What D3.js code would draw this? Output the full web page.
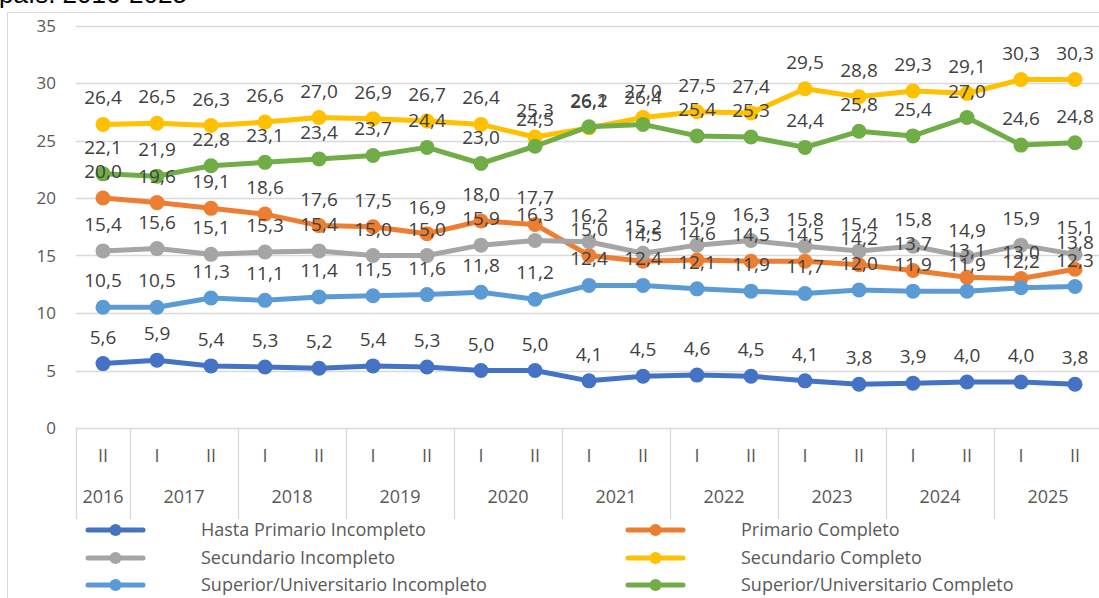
<!DOCTYPE html>
<html>
<head>
<meta charset="utf-8">
<script src="https://cdn.jsdelivr.net/npm/d3@7"></script>
<style>
  body { margin: 0; background: #fff; }
  svg { display: block; font-family: "Open Sans", sans-serif; }
  .tick-label { fill: #595959; font-size: 17px; }
  .cat-label { fill: #595959; font-size: 18px; }
  .data-label { fill: #404040; font-size: 19px; }
  .legend-label { fill: #595959; font-size: 18px; }
</style>
</head>
<body>
<div id="chart"></div>
<script>
// periods (semester + year)
const periodYear = [2016, 2017, 2017, 2018, 2018, 2019, 2019, 2020, 2020, 2021, 2021, 2022, 2022, 2023, 2023, 2024, 2024, 2025, 2025];
const periodHalf = ['II', 'I', 'II', 'I', 'II', 'I', 'II', 'I', 'II', 'I', 'II', 'I', 'II', 'I', 'II', 'I', 'II', 'I', 'II'];
const yTicks = [0, 5, 10, 15, 20, 25, 30, 35];

const hastaPrimarioIncompleto = [5.6, 5.9, 5.4, 5.3, 5.2, 5.4, 5.3, 5.0, 5.0, 4.1, 4.5, 4.6, 4.5, 4.1, 3.8, 3.9, 4.0, 4.0, 3.8];
const primarioCompleto = [20.0, 19.6, 19.1, 18.6, 17.6, 17.5, 16.9, 18.0, 17.7, 15.0, 14.5, 14.6, 14.5, 14.5, 14.2, 13.7, 13.1, 13.0, 13.8];
const secundarioIncompleto = [15.4, 15.6, 15.1, 15.3, 15.4, 15.0, 15.0, 15.9, 16.3, 16.2, 15.2, 15.9, 16.3, 15.8, 15.4, 15.8, 14.9, 15.9, 15.1];
const secundarioCompleto = [26.4, 26.5, 26.3, 26.6, 27.0, 26.9, 26.7, 26.4, 25.3, 26.1, 27.0, 27.5, 27.4, 29.5, 28.8, 29.3, 29.1, 30.3, 30.3];
const superiorIncompleto = [10.5, 10.5, 11.3, 11.1, 11.4, 11.5, 11.6, 11.8, 11.2, 12.4, 12.4, 12.1, 11.9, 11.7, 12.0, 11.9, 11.9, 12.2, 12.3];
const superiorCompleto = [22.1, 21.9, 22.8, 23.1, 23.4, 23.7, 24.4, 23.0, 24.5, 26.2, 26.4, 25.4, 25.3, 24.4, 25.8, 25.4, 27.0, 24.6, 24.8];

const series = [
  { name: 'Hasta Primario Incompleto', values: hastaPrimarioIncompleto, color: '#4472C4', col: 0, row: 0 },
  { name: 'Primario Completo', values: primarioCompleto, color: '#ED7D31', col: 1, row: 0 },
  { name: 'Secundario Incompleto', values: secundarioIncompleto, color: '#A5A5A5', col: 0, row: 1 },
  { name: 'Secundario Completo', values: secundarioCompleto, color: '#FFC000', col: 1, row: 1 },
  { name: 'Superior/Universitario Incompleto', values: superiorIncompleto, color: '#5B9BD5', col: 0, row: 2 },
  { name: 'Superior/Universitario Completo', values: superiorCompleto, color: '#70AD47', col: 1, row: 2 }
];

const width = 1099;
const height = 598;
const plotLeft = 76;
const band = 54;
const plotTop = 25.5;
const plotBottom = 428;
const axisBottom = 519;

let fmt = v => d3.format('.1f')(v).replace('.', ',');

let svg = d3.select('#chart').append('svg')
  .attr('width', width)
  .attr('height', height)

// title (cut off at the top)
svg.append('text')
  .attr('x', -1)
  .attr('y', 3)
  .style('font-family', '"Liberation Sans", Arial, sans-serif')
  .style('font-size', '26px')
  .attr('fill', '#000')
  .text('país. 2016-2025')

// chart frame
svg.append('rect')
  .attr('x', 7.5)
  .attr('y', 12.5)
  .attr('width', width + 10)
  .attr('height', height + 10)
  .attr('fill', 'none')
  .attr('stroke', '#d9d9d9')
  .attr('stroke-width', 1)

let x = d3.scaleBand()
  .domain(d3.range(periodYear.length))
  .range([plotLeft, plotLeft + band * periodYear.length])

let y = d3.scaleLinear()
  .domain([0, 35])
  .range([plotBottom, plotTop])

// gridlines
svg.append('g').selectAll('line')
  .data(yTicks)
  .join('line')
    .attr('x1', plotLeft)
    .attr('x2', width)
    .attr('y1', d => Math.round(y(d)) + 0.5)
    .attr('y2', d => Math.round(y(d)) + 0.5)
    .attr('stroke', '#d9d9d9')
    .attr('stroke-width', 1.3)

svg.append('g').selectAll('text')
  .data(yTicks)
  .join('text')
    .classed('tick-label', true)
    .attr('x', 56)
    .attr('y', d => y(d) + 6)
    .attr('text-anchor', 'end')
    .text(d => d)

// category axis: year separators
let boundaries = [0];
periodYear.forEach((yr, i) => { if (i > 0 && yr !== periodYear[i - 1]) boundaries.push(i); });

svg.append('g').selectAll('line')
  .data(boundaries)
  .join('line')
    .attr('x1', i => Math.round(x(i)) + 0.5)
    .attr('x2', i => Math.round(x(i)) + 0.5)
    .attr('y1', plotBottom)
    .attr('y2', axisBottom)
    .attr('stroke', '#d9d9d9')
    .attr('stroke-width', 1.3)

svg.append('g').selectAll('text')
  .data(periodHalf)
  .join('text')
    .classed('cat-label', true)
    .attr('x', (d, i) => x(i) + band / 2)
    .attr('y', 462)
    .attr('text-anchor', 'middle')
    .text(d => d)

let years = Array.from(new Set(periodYear));
svg.append('g').selectAll('text')
  .data(years)
  .join('text')
    .classed('cat-label', true)
    .attr('x', yr => {
      let idx = periodYear.map((p, i) => p === yr ? i : -1).filter(i => i >= 0);
      return (x(idx[0]) + x(idx[idx.length - 1]) + band) / 2;
    })
    .attr('y', 503)
    .attr('text-anchor', 'middle')
    .text(d => d)

// lines + markers
let line = d3.line()
  .x((d, i) => x(i) + band / 2)
  .y(d => y(d))

let groups = svg.append('g').selectAll('g')
  .data(series)
  .join('g')

groups.append('path')
  .attr('d', s => line(s.values))
  .attr('fill', 'none')
  .attr('stroke', s => s.color)
  .attr('stroke-width', 5)
  .attr('stroke-linejoin', 'round')
  .attr('stroke-linecap', 'round')

groups.selectAll('circle')
  .data(s => s.values.map(v => ({ v, color: s.color })))
  .join('circle')
    .attr('cx', (d, i) => x(i) + band / 2)
    .attr('cy', d => y(d.v))
    .attr('r', 7.5)
    .attr('fill', d => d.color)

// data labels above points
let labels = svg.append('g').selectAll('g')
  .data(series)
  .join('g')

labels.selectAll('text')
  .data(s => s.values)
  .join('text')
    .classed('data-label', true)
    .attr('x', (d, i) => x(i) + band / 2)
    .attr('y', d => y(d) - 20)
    .attr('text-anchor', 'middle')
    .text(d => fmt(d))

// legend
const legendX = [88, 628];
const legendTextX = [201, 741];
const legendY = [530, 558, 585];

let legend = svg.append('g').selectAll('g')
  .data(series)
  .join('g')
    .attr('transform', s => `translate(${legendX[s.col]}, ${legendY[s.row]})`)

legend.append('line')
  .attr('x1', 0)
  .attr('x2', 55)
  .attr('stroke', s => s.color)
  .attr('stroke-width', 5)
  .attr('stroke-linecap', 'round')

legend.append('circle')
  .attr('cx', 27.5)
  .attr('r', 6)
  .attr('fill', s => s.color)

legend.append('text')
  .classed('legend-label', true)
  .attr('x', s => legendTextX[s.col] - legendX[s.col])
  .attr('y', 6)
  .text(s => s.name)
</script>
</body>
</html>
